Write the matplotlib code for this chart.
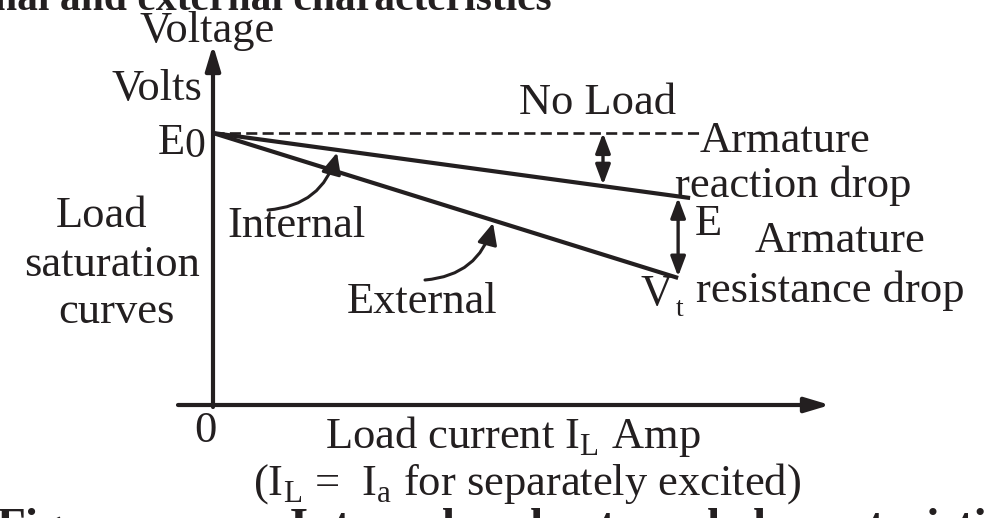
import matplotlib
matplotlib.use("Agg")
import matplotlib.pyplot as plt
from matplotlib.patches import FancyArrowPatch

# ---- data (arbitrary units: load current vs voltage) ----
E0 = 10.0
I_noload = [0.0, 10.15]
V_noload = [E0, E0]
I_internal = [0.0, 9.94]
V_internal = [E0, 7.61]
I_external = [0.0, 9.69]
V_external = [E0, 4.67]

# ---- pixel <-> data helpers (layout only) ----
X0, SX, Y0, SY = 213.0, 48.0, 405.0, 27.2
def D(px, py):
    return ((px - X0) / SX, (Y0 - py) / SY)

def interp(xs, ys, x):
    return ys[0] + (ys[1] - ys[0]) * (x - xs[0]) / (xs[1] - xs[0])

W, H = 997, 518
fig = plt.figure(figsize=(W / 100, H / 100), dpi=100)
ax = fig.add_axes([0, 0, 1, 1])
ax.set_xlim(-X0 / SX, (W - X0) / SX)
ax.set_ylim(-(H - Y0) / SY, Y0 / SY)
ax.axis("off")

FONT = "Liberation Serif"
FS = 32
col = "#231f20"
plt.rcParams["font.family"] = FONT
plt.rcParams["mathtext.fontset"] = "custom"
plt.rcParams["mathtext.rm"] = FONT

# axes arrows
ax.annotate("", xy=D(830, 405), xytext=D(178, 405),
            arrowprops=dict(arrowstyle="-|>,head_length=1.5,head_width=0.45",
                            lw=3.0, color=col, shrinkA=0, shrinkB=0))
ax.annotate("", xy=D(213, 45), xytext=D(213, 407),
            arrowprops=dict(arrowstyle="-|>,head_length=1.5,head_width=0.45",
                            lw=3.0, color=col, shrinkA=0, shrinkB=0))

# characteristic lines
ax.plot(I_noload, V_noload, ls=(0, (4.2, 2.0)), lw=1.9, color=col)
ax.plot(I_internal, V_internal, lw=3.0, color=col, solid_capstyle="butt")
ax.plot(I_external, V_external, lw=3.0, color=col, solid_capstyle="butt")

# armature reaction drop arrow
xr = D(603, 0)[0]
yr = interp(I_internal, V_internal, xr)
ax.annotate("", xy=(xr, yr), xytext=(xr, E0),
            arrowprops=dict(arrowstyle="<|-|>,head_length=1.2,head_width=0.45",
                            lw=2.4, color=col, shrinkA=0, shrinkB=1))
# armature resistance drop arrow
xs = I_external[1]
ys_top = interp(I_internal, V_internal, xs)
ax.annotate("", xy=(xs, V_external[1]), xytext=(xs, ys_top),
            arrowprops=dict(arrowstyle="<|-|>,head_length=1.2,head_width=0.45",
                            lw=2.4, color=col, shrinkA=1, shrinkB=1))

# curved pointer arrows
xi = D(337, 0)[0]
ax.add_patch(FancyArrowPatch(D(268, 210), (xi, interp(I_internal, V_internal, xi) - 0.1),
                             connectionstyle="arc3,rad=0.35",
                             arrowstyle="-|>,head_length=13,head_width=6",
                             lw=2.2, color=col, shrinkA=0, shrinkB=0))
xe = D(493, 0)[0]
ax.add_patch(FancyArrowPatch(D(425, 280), (xe, interp(I_external, V_external, xe) - 0.1),
                             connectionstyle="arc3,rad=0.35",
                             arrowstyle="-|>,head_length=13,head_width=6",
                             lw=2.2, color=col, shrinkA=0, shrinkB=0))

def T(px, py, s, ha="left", fs=FS, **kw):
    ax.text(*D(px, py), s, ha=ha, va="baseline", fontsize=fs, color=col,
            family=FONT, **kw)

T(207, 42, "Voltage", ha="center")
T(157, 100, "Volts", ha="center")
T(158, 154, "E")
T(184, 157, "0", fs=30)
T(102, 227, "Load", ha="center")
T(112, 276, "saturation", ha="center")
T(116, 323, "curves", ha="center")
T(598, 114, "No Load", ha="center")
T(700, 152, "Armature")
T(675, 197, "reaction drop")
T(695, 235, "E")
T(755, 252, "Armature")
T(696, 302, "resistance drop")
T(640, 305, "V")
T(676, 316, "t", fs=20)
T(227, 237, "Internal")
T(347, 313, "External")
T(205, 442, "0", ha="center")
T(325, 448, r"Load current I$_{\mathrm{L}}$ Amp")
T(253, 495, r"(I$_{\mathrm{L}}$ =  I$_{\mathrm{a}}$ for separately excited)")

# clipped caption fragments at the figure edges
T(-6, 10, "nal and external characteristics", fs=30, weight="bold")
T(-4, 540, "Figure", fs=34, weight="bold")
T(262, 540, ": Internal and external characteristics", fs=34, weight="bold")

fig.savefig("out.png", dpi=100)
